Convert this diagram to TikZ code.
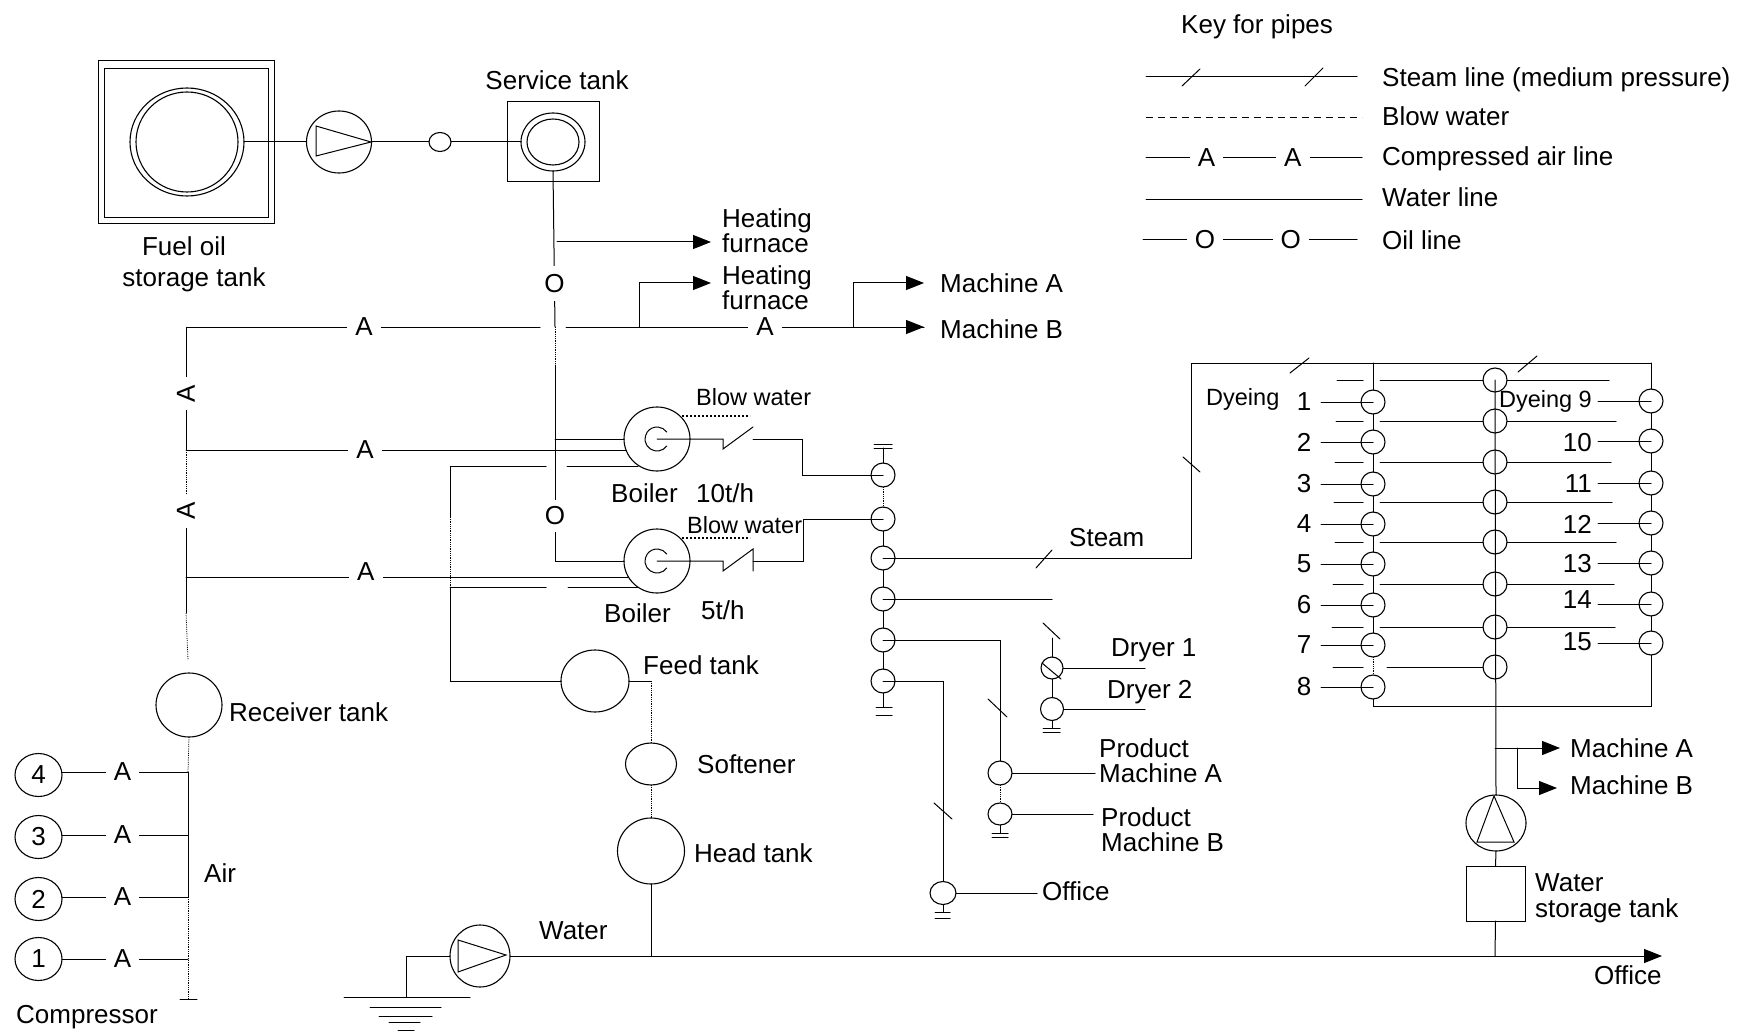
\documentclass[tikz,border=0pt]{standalone}
\usepackage{fontspec}
\setmainfont{Liberation Sans}
\usetikzlibrary{arrows.meta, shapes.geometric, positioning, calc}

\tikzset{
    pipe/.style={line width=1pt, line cap=round},
    faint/.style={line width=0.8pt, densely dotted},
    blowline/.style={line width=1.1pt, dash pattern=on 2pt off 2pt},
    flow/.style={pipe, -{Triangle[length=18pt,width=14pt]}},
    tank/.style 2 args={ellipse, draw, line width=1.1pt, inner sep=0pt, outer sep=0pt, minimum width=#1, minimum height=#2},
    valve/.style={tank={24pt}{24pt}},
    box/.style 2 args={rectangle, draw, line width=0.9pt, inner sep=0pt, outer sep=0pt, minimum width=#1, minimum height=#2},
    lbl/.style={anchor=west, inner sep=0pt, align=left, font=\fontsize{26}{25}\selectfont},
    lblc/.style={inner sep=0pt, font=\fontsize{26}{25}\selectfont},
    lble/.style={anchor=east, inner sep=0pt, font=\fontsize{26}{25}\selectfont},
    lbls/.style={lbl, font=\fontsize{23.5}{25}\selectfont},
    pipetag/.style={fill=white, inner xsep=8pt, inner ysep=3pt, font=\fontsize{26}{25}\selectfont}
}

\begin{document}
\begin{tikzpicture}[x=1pt, y=-1pt]
    \useasboundingbox (0,0) rectangle (1742,1032);

    % fuel oil side
    \node[box={176pt}{163pt}] (fuelouter) at (186,141.5) {};
    \node[box={164pt}{149pt}] (fuelinner) at (186,142.5) {};
    \node[tank={114pt}{108pt}] (fuel) at (187,142) {};
    \node[tank={102pt}{100pt}] (fuelin) at (187,142) {};
    \node[lblc] (fuellbl) at (184,246) {Fuel oil};
    \node[lblc] (storelbl) at (194,280) {storage tank};
    \node[tank={65pt}{62pt}] (oilpump) at (339,142) {};
    \draw[pipe] (316,126) -- (316,156) -- (371,142) -- cycle;
    \node[tank={22pt}{19pt}] (strainer) at (440,142) {};
    \node[box={92pt}{80pt}] (servicebox) at (553,141) {};
    \node[tank={64pt}{58pt}] (service) at (553,142) {};
    \node[tank={52pt}{46pt}] (servicein) at (553,142) {};
    \node[lblc] (servicelbl) at (557,80) {Service tank};
    \draw[pipe] (fuel.east) -- (oilpump.west);
    \draw[pipe] (oilpump.east) -- (strainer.west);
    \draw[pipe] (strainer.east) -- (service.west);

    % boilers
    \node[tank={66pt}{64pt}] (boilerA) at (657,439) {};
    \node[tank={66pt}{64pt}] (boilerB) at (657,561) {};
    \draw[pipe] (boilerA.center) ++(35:12) arc (35:325:12);
    \draw[pipe] (boilerB.center) ++(35:12) arc (35:325:12);
    \node[lbl] (boilerAlbl) at (611,493) {Boiler};
    \node[lbl] (rateA) at (696,493) {10t/h};
    \node[lbl] (boilerBlbl) at (604,613) {Boiler};
    \node[lbl] (rateB) at (701,610) {5t/h};
    \node[lbls] (blowA) at (696,397) {Blow water};
    \node[lbls] (blowB) at (687,525) {Blow water};

    % oil pipe
    \coordinate (oilmid) at (555,327);
    \coordinate (oilmidb) at (555,365);
    \coordinate (oilB) at (555,561);
    \coordinate (oilA) at (555,439);
    \coordinate (heatA) at (557,242);
    \coordinate (heatAend) at (711,242);
    \draw[pipe] (service.south) -- node[pipetag, pos=0.72, inner ysep=8pt] (oilO) {O} (oilmid);
    \draw[faint] (oilmid) -- (oilmidb);
    \draw[pipe] (oilmidb) -- node[pipetag, pos=0.77, inner ysep=7pt] (oilOb) {O} (oilB) -- (boilerB.west);
    \draw[pipe] (oilA) -- (boilerA.west);
    \draw[flow] (heatA) -- (heatAend);
    \node[lbl] (heatAlbl) at (722,231) {Heating\\furnace};
    \node[lbl] (heatBlbl) at (722,288) {Heating\\furnace};

    % compressed air
    \coordinate (airtop) at (186,327);
    \coordinate (airgapl) at (540,327);
    \coordinate (airgapr) at (566,327);
    \coordinate (heatjoin) at (639,327);
    \coordinate (heatBend) at (711,283);
    \coordinate (machjoin) at (853,327);
    \coordinate (machAend) at (924,283);
    \coordinate (machBend) at (924,327);
    \coordinate (airA) at (186,450);
    \coordinate (airAend) at (626,450);
    \coordinate (airA2) at (186,495);
    \coordinate (airB) at (186,577);
    \coordinate (airBend) at (628,577);
    \coordinate (airlow) at (186,613);
    \coordinate (airrecv) at (188,660);
    \draw[pipe] (airgapl) -- node[pipetag, pos=0.497] (airtag1) {A} (airtop)
        -- node[pipetag, pos=0.54, rotate=90] (airtag2) {A} (airA);
    \draw[pipe] (airgapr) -- node[pipetag, pos=0.556] (airtag3) {A} (machBend);
    \draw[flow] (heatjoin) |- (heatBend);
    \draw[flow] (machjoin) |- (machAend);
    \draw[flow] (machjoin) -- (machBend);
    \draw[pipe] (airA) -- node[pipetag, pos=0.407] (airtag4) {A} (airAend);
    \draw[faint] (airA) -- (airA2);
    \draw[pipe] (airA2) -- node[pipetag, pos=0.136, rotate=90] (airtag5) {A} (airlow);
    \draw[pipe] (airB) -- node[pipetag, pos=0.407, yshift=5pt] (airtag6) {A} (airBend);
    \draw[faint] (airlow) -- (airrecv);
    \node[lbl] at (940,283) {Machine A};
    \node[lbl] at (940,329) {Machine B};

    % receiver and compressors
    \node[tank={66pt}{64pt}] (receiver) at (189,705) {};
    \node[lbl] (receiverlbl) at (229,712) {Receiver tank};
    \foreach \y/\l/\n in {775/772/4, 837/835/3, 899/897/2, 959/959/1} {
        \node[tank={47pt}{43pt}, font=\fontsize{26}{25}\selectfont] (comp\n) at (38.5,\y) {\n};
        \coordinate (bus\n) at (188,\l);
        \draw[pipe] (comp\n.east |- bus\n) -- node[pipetag, pos=0.48] (airc\n) {A} (bus\n);
    }
    \coordinate (busend) at (188,999);
    \coordinate (busendl) at (180,999);
    \coordinate (busendr) at (197,999);
    \draw[faint] (receiver.south) -- (bus4);
    \draw[pipe] (bus4) -- (bus2);
    \draw[faint] (bus2) -- (busend);
    \draw[pipe] (busendl) -- (busendr);
    \node[lbl] (airlbl) at (204,873) {Air};
    \node[lbl] (complbl) at (16,1017) {Compressor};

    % water feed
    \node[tank={68pt}{62pt}] (feed) at (595,681) {};
    \node[tank={51pt}{42pt}] (softener) at (651,764) {};
    \node[tank={67pt}{66pt}] (head) at (651,851) {};
    \node[lbl] (feedlbl) at (643,665) {Feed tank};
    \node[lbl] (softlbl) at (697,764) {Softener};
    \node[lbl] (headlbl) at (694,853) {Head tank};
    \coordinate (feedtop) at (450,466);
    \coordinate (feedbrk) at (450,517);
    \coordinate (feedgapA) at (546,466);
    \coordinate (feedgapAr) at (567,466);
    \coordinate (feedAend) at (638,466);
    \coordinate (feedmid) at (450,587);
    \coordinate (feedgapB) at (546,587);
    \coordinate (feedgapBr) at (568,587);
    \coordinate (feedBend) at (638,587);
    \coordinate (feedlow) at (450,681);
    \coordinate (feedturn) at (651,681);
    \draw[pipe] (feedgapA) -- (feedtop) -- (feedbrk);
    \draw[faint] (feedbrk) -- (feedmid);
    \draw[pipe] (feedmid) -- (feedlow) -- (feed.west);
    \draw[pipe] (feedgapAr) -- (feedAend);
    \draw[pipe] (feedmid) -- (feedgapB);
    \draw[pipe] (feedgapBr) -- (feedBend);
    \draw[pipe] (feed.east) -- (feedturn);
    \draw[faint] (feedturn) -- (softener.north);
    \draw[faint] (softener.south) -- (head.north);

    % main water line
    \node[tank={60pt}{62pt}] (waterpump) at (480,956) {};
    \draw[pipe] (458,940) -- (458,972) -- (506,955) -- cycle;
    \coordinate (ground) at (406,997);
    \coordinate (officeend) at (1662,956);
    \coordinate (headjoin) at (651,956);
    \coordinate (tankjoin) at (1495,956);
    \draw[pipe] (waterpump.west) -| (ground);
    \foreach \y/\a/\b in {997/344/470, 1007/370/441, 1016/379/432, 1022/389/420, 1030/398/414} {
        \draw[pipe] (\a,\y) -- (\b,\y);
    }
    \draw[flow] (waterpump.east) -- (officeend);
    \draw[pipe] (head.south) -- (headjoin);
    \node[lbl] (waterlbl) at (539,931) {Water};
    \node[lbl] (officeendlbl) at (1594,975) {Office};

    % blow water and check valves
    \draw[blowline] (682,416) -- (750,416);
    \draw[blowline] (682,538) -- (750,538);
    \foreach \i/\y in {1/475, 2/519, 3/558, 4/599, 5/640, 6/681} {
        \node[valve] (hdr\i) at (883,\y) {};
    }
    \foreach \i/\j in {2/3, 3/4, 4/5, 5/6} {
        \draw[pipe] (hdr\i.south) -- (hdr\j.north);
    }
    \draw[faint] (hdr1.south) -- (hdr2.north);
    \coordinate (hdrtop) at (883,448);
    \coordinate (hdrbot) at (883,707);
    \draw[pipe] (hdr1.north) -- (hdrtop);
    \draw[pipe] (hdr6.south) -- (hdrbot);
    \draw[pipe] (874,448) -- (892,448) (874,444) -- (892,444);
    \draw[pipe] (876,707) -- (892,707) (876,715) -- (892,715);
    \coordinate (checkA) at (723,439);
    \coordinate (checkAb) at (753,439);
    \coordinate (turnA) at (802,439);
    \coordinate (checkB) at (723,561);
    \coordinate (checkBb) at (753,561);
    \coordinate (turnB) at (803,561);
    \draw[pipe] (boilerA.center) -- (checkA) -- ++(0,10) -- (753,427);
    \draw[pipe] (checkAb) -- (turnA) |- (hdr1.center);
    \draw[pipe] (boilerB.center) -- (checkB) -- ++(0,10) -- (753,549) -- ++(0,22);
    \draw[pipe] (checkBb) -- (turnB) |- (hdr2.center);

    % steam mains
    \coordinate (dyecorner) at (1191,558);
    \coordinate (dyetop) at (1191,363);
    \coordinate (dyeright) at (1651,363);
    \draw[pipe] (hdr3.center) -- (dyecorner) -- (dyetop) -- (dyeright);
    \draw[pipe] (1036,568) -- (1052,550);
    \draw[pipe] (1183,457) -- (1200,472);
    \draw[pipe] (1290,373) -- (1309,358);
    \draw[pipe] (1518,372) -- (1537,356);
    \node[lbl] (steamlbl) at (1069,538) {Steam};

    % dryers and product machines
    \node[tank={22pt}{22pt}] (dryerA) at (1052,668) {};
    \node[tank={23pt}{23pt}] (dryerB) at (1052,709) {};
    \draw[pipe] (1042,663) -- (1061,679);
    \coordinate (dryertop) at (1052,638);
    \coordinate (dryerstub) at (1052,599);
    \coordinate (dryerbot) at (1052,728);
    \coordinate (dryerAend) at (1145,668);
    \coordinate (dryerBend) at (1145,709);
    \draw[pipe] (hdr4.center) -- (dryerstub);
    \draw[pipe] (dryertop) -- (dryerA.north);
    \draw[pipe] (dryerA.south) -- (dryerB.north);
    \draw[pipe] (dryerB.south) -- (dryerbot);
    \draw[pipe] (1043,623) -- (1060,639);
    \draw[pipe] (1043,728) -- (1060,728) (1043,732) -- (1060,732);
    \draw[pipe] (dryerA.east) -- (dryerAend);
    \draw[pipe] (dryerB.east) -- (dryerBend);
    \node[lbl] (dryerAlbl) at (1111,650) {Dryer 1};
    \node[lbl] (dryerBlbl) at (1107,692) {Dryer 2};

    \node[valve] (prodA) at (1000,773) {};
    \node[tank={24pt}{22pt}] (prodB) at (1000,814) {};
    \coordinate (prodAend) at (1095,773);
    \coordinate (prodBend) at (1093,814);
    \coordinate (prodbot) at (1000,833);
    \draw[pipe] (hdr5.center) -| (prodA.north);
    \draw[faint] (prodA.south) -- (prodB.north);
    \draw[pipe] (prodB.south) -- (prodbot);
    \draw[pipe] (988,699) -- (1007,717);
    \draw[pipe] (992,833) -- (1008,833) (992,837) -- (1008,837);
    \draw[pipe] (prodA.east) -- (prodAend);
    \draw[pipe] (prodB.east) -- (prodBend);
    \node[lbl] (prodAlbl) at (1099,761) {Product\\Machine A};
    \node[lbl] (prodBlbl) at (1101,830) {Product\\Machine B};

    \node[tank={26pt}{23pt}] (office) at (943,893) {};
    \coordinate (officebot) at (943,912);
    \coordinate (officeline) at (1037,893);
    \draw[pipe] (hdr6.center) -| (office.north);
    \draw[pipe] (office.south) -- (officebot);
    \draw[pipe] (934,803) -- (952,819);
    \draw[pipe] (935,912) -- (950,912) (935,918) -- (950,918);
    \draw[pipe] (office.east) -- (officeline);
    \node[lbl] (officelbl) at (1042,891) {Office};

    % dyeing machines, left row
    \foreach \i/\y in {1/402, 2/442, 3/484, 4/524, 5/564, 6/605, 7/645, 8/687} {
        \node[valve] (dl\i) at (1373,\y) {};
        \coordinate (sl\i) at (1321,\y);
        \draw[pipe] (sl\i) -- (dl\i.center);
        \node[lblc] at (1304,\y) {\i};
    }
    \foreach \i/\j in {1/2, 2/3, 3/4, 4/5, 5/6, 6/7} {
        \draw[pipe] (dl\i.south) -- (dl\j.north);
    }
    \draw[faint] (dl7.south) -- (dl8.north);
    \coordinate (dltop) at (1373,363);
    \draw[pipe] (dltop) -- (dl1.north);

    % dyeing machines, right row
    \foreach \i/\y in {9/401, 10/441, 11/483, 12/523, 13/563, 14/604, 15/643} {
        \node[valve] (dr\i) at (1651,\y) {};
        \coordinate (sr\i) at (1598,\y);
        \draw[pipe] (sr\i) -- (dr\i.center);
    }
    \foreach \i/\j in {9/10, 10/11, 11/12, 12/13, 13/14, 14/15} {
        \draw[pipe] (dr\i.south) -- (dr\j.north);
    }
    \foreach \n/\y in {10/443, 11/484, 12/524, 13/564, 14/600, 15/642} {
        \node[lble] at (1592,\y) {\n};
    }
    \node[lble, font=\fontsize{23.5}{25}\selectfont] (dyeingB) at (1592,401) {Dyeing 9};
    \node[lbls] (dyeingA) at (1206,399) {Dyeing};
    \draw[pipe] (dyeright) -- (dr9.north);
    \coordinate (rowbot) at (1373,706);
    \coordinate (rowbotr) at (1651,706);
    \draw[pipe] (dl8.south) -- (rowbot) -- (rowbotr) -- (dr15.south);

    % middle row
    \foreach \i/\y/\a/\b in {1/380/1337/1609, 2/421/1336/1616, 3/462/1335/1611, 4/502/1334/1612, 5/542/1335/1616, 6/584/1333/1614, 7/627/1332/1615} {
        \node[valve] (dm\i) at (1495,\y) {};
        \coordinate (ml\i) at (\a,\y);
        \coordinate (mg\i) at (1363,\y);
        \coordinate (mh\i) at (1380,\y);
        \coordinate (mr\i) at (\b,\y);
        \draw[pipe] (ml\i) -- (mg\i);
        \draw[pipe] (mh\i) -- (dm\i.west);
        \draw[pipe] (dm\i.east) -- (mr\i);
    }
    \node[valve] (dm8) at (1495,667) {};
    \coordinate (ml8) at (1333,667);
    \coordinate (mg8) at (1363,667);
    \coordinate (mh8) at (1387,667);
    \draw[pipe] (ml8) -- (mg8);
    \draw[pipe] (mh8) -- (dm8.west);

    % process water pump
    \node[tank={60pt}{56pt}] (procpump) at (1496,823) {};
    \draw[pipe] (1494,796) -- (1477,842) -- (1514,842) -- cycle;
    \node[box={59pt}{55pt}] (watertank) at (1495.5,893.5) {};
    \coordinate (procA) at (1495,748);
    \coordinate (procAend) at (1560,748);
    \coordinate (procB) at (1517,748);
    \coordinate (procBend) at (1557,788);
    \draw[pipe] (dm1.center) -- (procpump.north);
    \draw[flow] (procA) -- (procAend);
    \draw[flow] (procB) |- (procBend);
    \draw[pipe] (procpump.south) -- (watertank.north);
    \draw[pipe] (watertank.south) -- (tankjoin);
    \node[lbl] at (1570,748) {Machine A};
    \node[lbl] at (1570,785) {Machine B};
    \node[lbl] (waterstore) at (1535,898) {Water\\[1pt]storage tank};

    % key for pipes
    \node[lbl] (keylbl) at (1181,27) {Key for pipes};
    \coordinate (keyAl) at (1146,77);
    \coordinate (keyAr) at (1357,77);
    \draw[pipe] (keyAl) -- (keyAr);
    \draw[pipe] (1182,86) -- (1200,69);
    \draw[pipe] (1305,86) -- (1323,68);
    \coordinate (keyBl) at (1146,118);
    \coordinate (keyBr) at (1362,118);
    \draw[line width=1pt, dash pattern=on 7pt off 5pt] (keyBl) -- (keyBr);
    \coordinate (keyCl) at (1146,158);
    \coordinate (keyCr) at (1362,158);
    \draw[pipe] (keyCl) -- node[pipetag, pos=0.28] {A} node[pipetag, pos=0.68] {A} (keyCr);
    \coordinate (keyDl) at (1146,200);
    \coordinate (keyDr) at (1362,200);
    \draw[pipe] (keyDl) -- (keyDr);
    \coordinate (keyEl) at (1143,240);
    \coordinate (keyEr) at (1357,240);
    \draw[pipe] (keyEl) -- node[pipetag, pos=0.29] {O} node[pipetag, pos=0.69] {O} (keyEr);
    \node[lbl] at (1382,80) {Steam line (medium pressure)};
    \node[lbl] at (1382,116) {Blow water};
    \node[lbl] at (1382,159) {Compressed air line};
    \node[lbl] at (1382,197) {Water line};
    \node[lbl] at (1382,240) {Oil line};
\end{tikzpicture}
\end{document}
